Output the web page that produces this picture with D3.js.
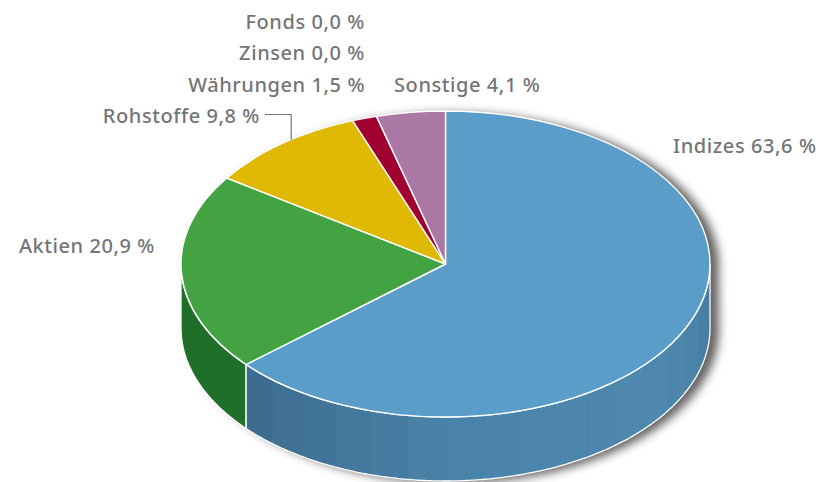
<!DOCTYPE html>
<html>
<head>
<meta charset="utf-8">
<script src="https://cdn.jsdelivr.net/npm/d3@7/dist/d3.min.js"></script>
<style>
  html, body { margin: 0; background: #fff; }
  svg { display: block; }
  .label { font-family: "Noto Sans", sans-serif; font-size: 20px; font-weight: 500; fill: #747578; letter-spacing: 0.58px; }
</style>
</head>
<body>
<div id="chart"></div>
<script>
// ===== Data =====
const categories = ['Indizes', 'Aktien', 'Rohstoffe', 'Währungen', 'Zinsen', 'Fonds', 'Sonstige'];
const shares     = [63.6, 20.9, 9.8, 1.5, 0.0, 0.0, 4.1];
const topColors  = ['#5b9dc9', '#43a342', '#e0b905', '#a0002f', '#a0002f', '#a0002f', '#ab78a5'];

// ---- layout ----
const width = 820, height = 482;
const cx = 445.5, cy = 264, rx = 264.5, ry = 153, depth = 64;

// label anchors: [x, baseline, text-anchor]
const labelSpots = [
  [673, 153, 'start'], [155, 253, 'end'], [260, 123, 'end'],
  [365, 92, 'end'], [365, 60, 'end'], [365, 29, 'end'], [394, 92, 'start']
];

const svg = d3.select('#chart').append('svg')
  .attr('width', width).attr('height', height)
  .attr('viewBox', `0 0 ${width} ${height}`);

const blur = svg.append('defs').append('filter')
  .attr('id', 'soft').attr('x', '-10%').attr('y', '-10%').attr('width', '120%').attr('height', '120%');
blur.append('feGaussianBlur').attr('stdDeviation', 5);

// shares are percentages and add up to 99.9, so the pie keeps them unnormalised
const shareTotal = d3.sum(shares);
const sliceSpan = d3.pie().sort(null).value(d => d)
  .endAngle(2 * Math.PI * shareTotal / 100)(shares);
// the last slice closes the circle over the rounding gap
sliceSpan[sliceSpan.length - 1].endAngle = 2 * Math.PI;
const arcUnit = d3.arc().innerRadius(0).outerRadius(1);

// projection of a pie angle (clockwise from top) onto the tilted disc
const px = a => cx + rx * Math.sin(a);
const py = (a, dz = 0) => cy - ry * Math.cos(a) + dz;

function wallPath(a0, a1) {
  const steps = d3.range(a0, a1, 0.01).concat([a1]);
  const upper = steps.map(a => `${px(a)},${py(a)}`);
  const lower = steps.slice().reverse().map(a => `${px(a)},${py(a, depth)}`);
  return `M${upper.join('L')}L${lower.join('L')}Z`;
}

const silhouette = wallPath(Math.PI / 2, Math.PI * 1.5);

// Drop shadow behind the whole disc
const shadow = svg.append('g').attr('filter', 'url(#soft)').attr('opacity', 0.8);
shadow.append('path')
  .attr('d', silhouette)
  .attr('transform', 'translate(9,2)')
  .attr('fill', '#3f3a3a');
shadow.append('ellipse')
  .attr('cx', cx + 9).attr('cy', cy + 2).attr('rx', rx).attr('ry', ry)
  .attr('fill', '#3f3a3a');

// Side wall: Indizes is faceted from light to dark, Aktien is flat
const wallShade = d3.scaleLinear()
  .domain([Math.PI * 0.5, Math.PI * 0.72, Math.PI, Math.PI * 1.27])
  .range(['#447ca1', '#5089af', '#4a82a8', '#3b6b8e']);
const facetStep = Math.PI / 22;

const indizes = sliceSpan[0], aktien = sliceSpan[1];
const facetStarts = d3.range(Math.PI / 2, indizes.endAngle, facetStep);

svg.append('g').selectAll('path')
  .data(facetStarts)
  .enter()
  .append('path')
  .attr('d', a => wallPath(a, Math.min(a + facetStep, indizes.endAngle)))
  .attr('fill', a => wallShade(a + facetStep / 2))
  .attr('stroke', a => wallShade(a + facetStep / 2))
  .attr('stroke-width', 0.4);

svg.append('path')
  .attr('d', wallPath(aktien.startAngle, Math.PI * 1.5))
  .attr('fill', '#1f6f2a');

// White outline of the wall, and the seam between the two wall colours
svg.append('path')
  .attr('d', silhouette)
  .attr('fill', 'none').attr('stroke', '#fff').attr('stroke-width', 1.3);
svg.append('path')
  .attr('d', `M${px(indizes.endAngle)},${py(indizes.endAngle)}V${py(indizes.endAngle, depth)}`)
  .attr('stroke', '#fff').attr('stroke-width', 1.6);

// Top face
svg.append('g')
  .attr('transform', `translate(${cx},${cy}) scale(${rx},${ry})`)
  .selectAll('path')
  .data(sliceSpan.filter(d => d.value > 0))
  .enter()
  .append('path')
  .attr('d', arcUnit)
  .attr('fill', d => topColors[d.index])
  .attr('stroke', '#fff')
  .attr('stroke-width', 1.4)
  .attr('stroke-linejoin', 'round')
  .attr('vector-effect', 'non-scaling-stroke');

// Labels
const shareFormat = d3.formatLocale({ decimal: ',', thousands: '.', grouping: [3], currency: ['', ' €'] }).format('.1f');
svg.append('g').selectAll('text')
  .data(categories)
  .enter()
  .append('text')
  .attr('class', 'label')
  .attr('x', (d, i) => labelSpots[i][0])
  .attr('y', (d, i) => labelSpots[i][1])
  .attr('text-anchor', (d, i) => labelSpots[i][2])
  .text((d, i) => `${d} ${shareFormat(shares[i])} %`);

// Leader line for Rohstoffe
const roh = sliceSpan[2];
const leaderEnd = roh.startAngle + (roh.endAngle - roh.startAngle) * 0.57;
svg.append('path')
  .attr('d', `M265,114.5H${px(leaderEnd)}V${py(leaderEnd)}`)
  .attr('fill', 'none').attr('stroke', '#747578').attr('stroke-width', 1.2);
</script>
</body>
</html>
